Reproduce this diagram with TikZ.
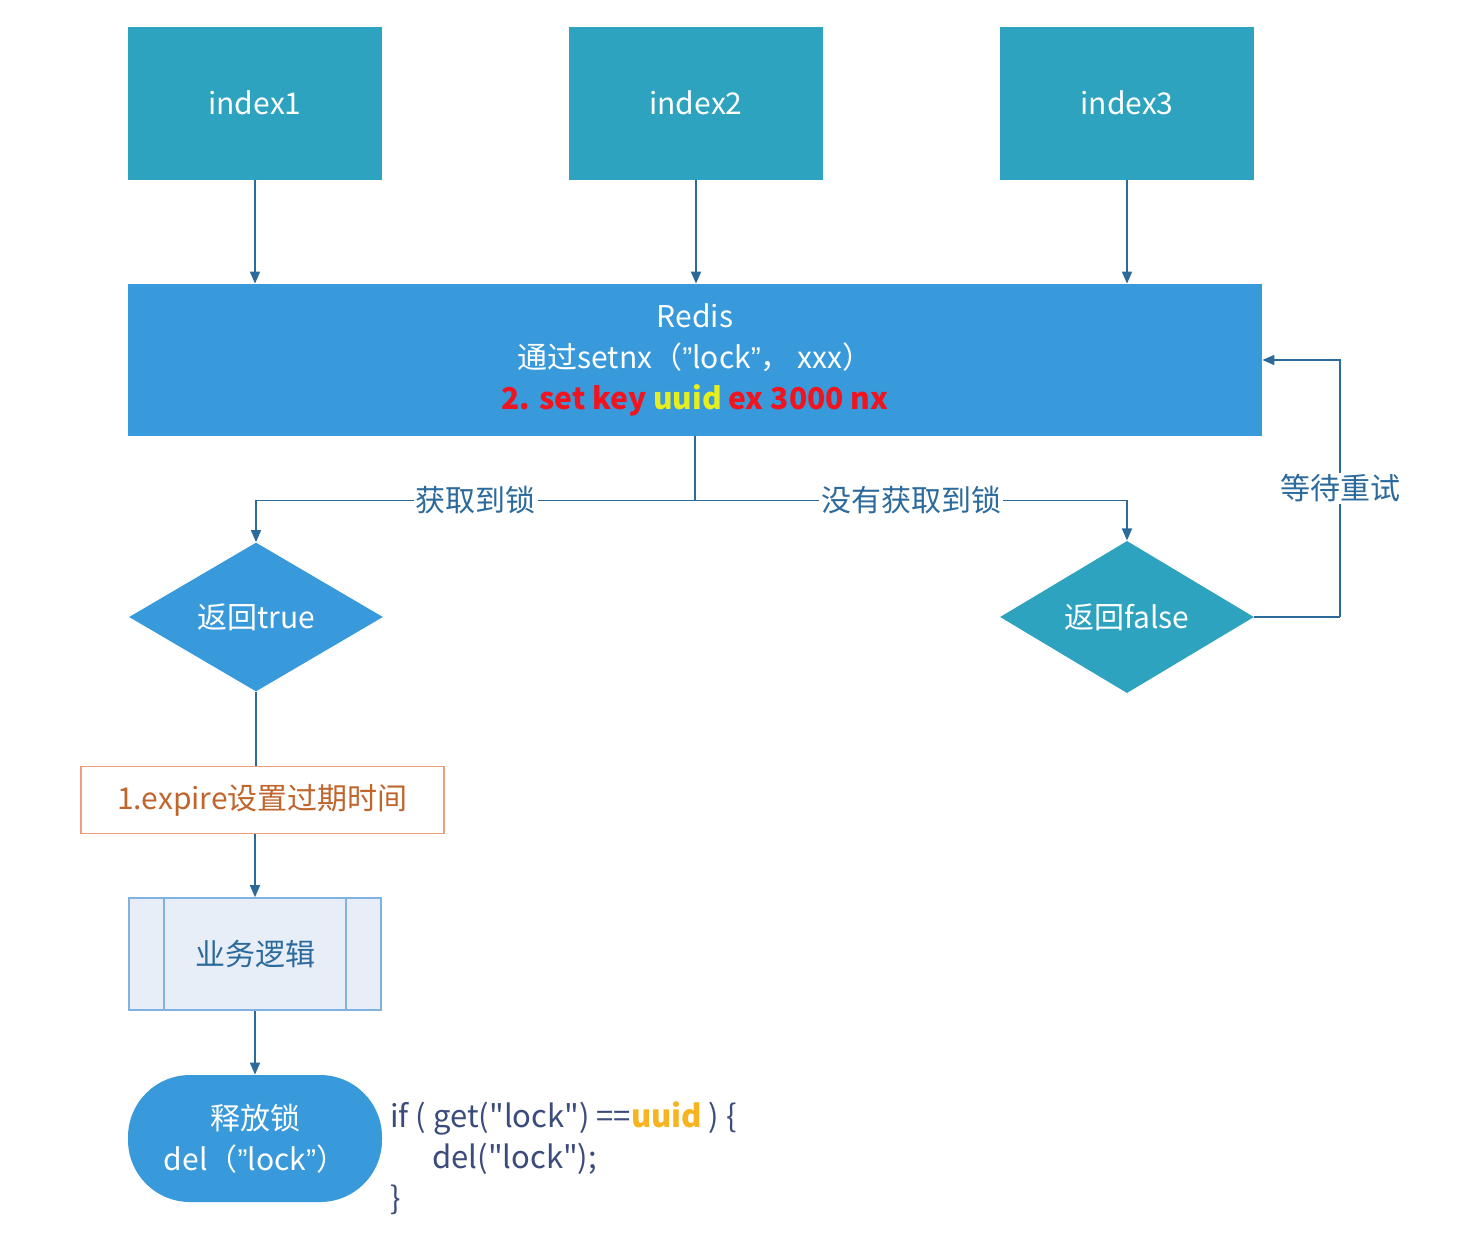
\documentclass[tikz,border=0pt]{standalone}
\usepackage{fontspec}
\setmainfont{Noto Sans CJK SC}
\newfontfamily\plainfont{Noto Sans CJK SC}
\newfontfamily\quotefont{Liberation Sans}
\usetikzlibrary{shapes.geometric,positioning,arrows.meta}
\definecolor{lockTeal}{HTML}{2DA3BF}
\definecolor{lockBlue}{HTML}{3899DB}
\definecolor{lockLine}{HTML}{2C6A9C}
\definecolor{lockOrange}{HTML}{F29A7E}
\definecolor{lockBrown}{HTML}{C0652C}
\definecolor{lockPale}{HTML}{E7EEF8}
\definecolor{lockPaleLine}{HTML}{80B2E0}
\definecolor{lockCode}{HTML}{3B4B7B}
\definecolor{lockGold}{HTML}{F7B320}
\definecolor{lockRed}{HTML}{F0141E}
\definecolor{lockYellow}{HTML}{E6EE1E}
\newcommand{\lockq}{{\quotefont ”}}

\tikzset{
  client/.style={rectangle, fill=lockTeal, text=white, inner sep=0pt,
    minimum width=127pt, minimum height=76.5pt},
  decision/.style={diamond, text=white, inner sep=0pt,
    minimum width=127pt, minimum height=74.5pt},
  arr/.style={draw=lockLine, line width=0.8pt, -{Triangle[length=6pt,width=5pt]}},
  link/.style={draw=lockLine, line width=0.8pt},
  lbl/.style={fill=white, text=lockLine, inner sep=1pt}
}

\begin{document}
\begin{tikzpicture}[x=0.5pt, y=-0.5pt, font=\fontsize{15}{20.5}\selectfont]
  \useasboundingbox (0,0) rectangle (1466,1248);

  \node[client] (idx1) at (255,103) {index1};
  \node[client] (idx2) at (696,103) {index2};
  \node[client] (idx3) at (1127,103) {index3};

  \node[rectangle, fill=lockBlue, text=white, inner sep=0pt, align=center,
    minimum width=567pt, minimum height=76pt] (redis) at (695,360)
    {Redis\\ 通过setnx（\lockq lock\lockq， xxx）\\
     \textbf{\color{lockRed}2. set key \color{lockYellow}uuid \color{lockRed}ex 3000 nx}};

  \node[decision, fill=lockBlue] (true) at (256,617) {返回true};
  \node[decision, fill=lockTeal] (false) at (1127,617) {返回false};

  \node[rectangle, draw=lockOrange, line width=0.8pt, fill=white, text=lockBrown,
    minimum width=181.5pt, minimum height=33.5pt, inner sep=0pt] (expire) at (262.5,800)
    {1.expire设置过期时间};

  \node[rectangle, draw=lockPaleLine, line width=0.8pt, fill=lockPale, text=lockLine,
    minimum width=126pt, minimum height=56pt, inner sep=0pt] (logic) at (255,954) {业务逻辑};
  \draw[lockPaleLine, line width=0.8pt] (164,898) -- (164,1010) (346,898) -- (346,1010);

  \node[rectangle, rounded corners=31pt, fill=lockBlue, text=white, align=center,
    minimum width=127pt, minimum height=63.5pt, inner sep=0pt] (release) at (255,1138.5)
    {释放锁\\ del（\lockq lock\lockq）};

  \node[anchor=north west, text=lockCode, align=left, inner sep=0pt,
    font=\fontsize{15.5}{20.5}\selectfont] (code) at (390,1101)
    {\plainfont if (\ get("lock") ==\textcolor{lockGold}{\textbf{uuid}} ) \{\\
     \plainfont\hspace*{21pt}del("lock");\\ \}};

  \draw[arr] (idx1) -- (idx1 |- redis.north);
  \draw[arr] (idx2) -- (idx2 |- redis.north);
  \draw[arr] (idx3) -- (idx3 |- redis.north);

  \draw[link] (redis.south) -- ++(0,64) coordinate (split);
  \draw[arr] (split) -| node[lbl, pos=0.25] {获取到锁} (true.north);
  \draw[arr] (split) -| node[lbl, pos=0.25] {没有获取到锁} (false.north);

  \coordinate (retry) at (1340,617);
  \draw[link] (false.east) -- (retry);
  \draw[arr] (retry) |- node[lbl, pos=0.25] {等待重试} (redis.east);

  \draw[link] (true.south) -- (true.south |- expire.north);
  \draw[arr] (expire.south -| logic.north) -- (logic.north);
  \draw[arr] (logic) -- (release);
\end{tikzpicture}
\end{document}
